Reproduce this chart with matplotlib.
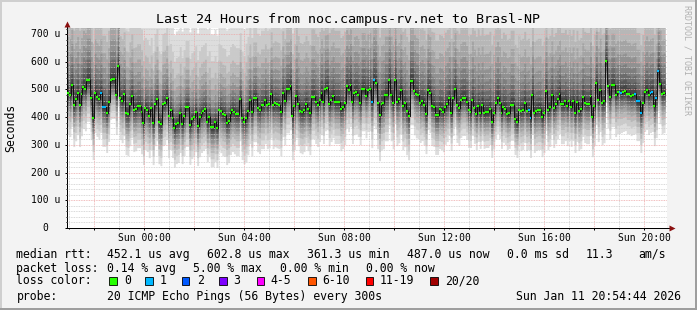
import numpy as np
import matplotlib
matplotlib.use("Agg")
import matplotlib.pyplot as plt
from matplotlib.patches import Rectangle

# ---------------- data ----------------
title = "Last 24 Hours from noc.campus-rv.net to Brasl-NP"

# median RTT in microseconds, in time order (four consecutive stretches)
median_a = [487, 480, 516, 444, 465, 487, 444, 483, 509, 501,
            535, 535, 469, 397, 487, 473, 465, 487, 437, 437,
            415, 455, 535, 538, 538, 480, 585, 469, 458, 483,
            415, 411, 447, 476, 426, 429, 440, 440, 418, 379,
            433, 426, 404, 433, 379, 447, 465, 382, 375, 447,
            451, 469, 404, 426, 397, 362, 375, 379, 415, 375,
            404, 437, 437, 372, 393, 400, 418, 368, 400, 415,
            422, 429, 382, 400, 364, 364, 382, 361, 426]
median_b = [422, 411, 408, 379, 386, 415, 426, 418, 411, 411,
            465, 397, 382, 397, 422, 462, 418, 469, 469, 433,
            426, 444, 444, 462, 444, 447, 483, 444, 451, 447,
            444, 418, 487, 458, 501, 501, 512, 404, 440, 476,
            447, 422, 418, 426, 447, 429, 415, 473, 473, 455,
            444, 462, 487, 455, 501, 505, 447, 462, 476, 455,
            455, 455, 429, 437, 451, 512, 498, 516, 455, 487,
            491, 480, 451, 501, 501, 476, 498]
median_c = [501, 455, 534, 523, 451, 408, 447, 451, 480, 480,
            534, 480, 451, 534, 455, 465, 498, 440, 451, 422,
            404, 530, 530, 494, 483, 480, 451, 458, 444, 411,
            498, 487, 440, 437, 408, 408, 429, 426, 418, 437,
            447, 469, 415, 469, 501, 444, 433, 462, 469, 469,
            455, 426, 418, 462, 433, 411, 440, 415, 444, 415,
            418, 418, 429, 382, 415, 451, 469, 451, 415, 437,
            429, 411, 415, 444, 444, 393, 382, 426]
median_d = [422, 426, 451, 422, 426, 397, 480, 415, 422, 426,
            426, 400, 415, 494, 426, 437, 480, 433, 447, 465,
            483, 447, 447, 458, 440, 458, 437, 458, 415, 455,
            422, 429, 473, 451, 447, 447, 476, 400, 440, 523,
            462, 498, 451, 458, 603, 512, 473, 516, 516, 480,
            491, 491, 487, 491, 494, 483, 483, 476, 480, 483,
            458, 458, 415, 451, 491, 498, 480, 487, 491, 440,
            469, 566, 519, 483, 487]

# positions (in the sequence above) of steps with 1 lost ping of 20
loss_one_steps = [17, 18, 19, 157, 158, 238, 239, 285, 286, 293, 294,
                  295, 296, 301, 302, 304, 305]

# smoke spread per clock hour (20h of the previous day ... 20h)
smoke_hours = [20, 21, 22, 23, 0, 1, 2, 3, 4, 5, 6, 7, 8, 9, 10, 11,
               12, 13, 14, 15, 16, 17, 18, 19, 20]
lower_scale = [1.0, 1.0, 0.95, 1.0, 1.0, 0.95, 0.95, 1.0, 1.05, 1.05,
               1.0, 1.0, 1.0, 1.1, 1.05, 0.95, 0.9, 0.85, 0.85, 0.95,
               0.95, 0.95, 1.0, 0.95, 0.95]
upper_scale = [1.2, 1.2, 1.15, 1.0, 0.85, 0.8, 0.8, 0.8, 0.9, 1.0,
               1.1, 1.15, 1.2, 1.25, 1.2, 1.2, 1.2, 1.25, 1.2, 1.15,
               1.15, 1.15, 1.1, 1.1, 1.15]
# typical offsets of the sorted pings from the median (inner -> outer), us
lower_profile = [-6, -14, -24, -35, -47, -60, -76, -96, -120, -150]
upper_profile = [8, 22, 40, 62, 90, 125, 170, 225, 300, 420]

t_first, t_last = -3.08, 20.84          # hours relative to Sun 00:00
x_min, x_max = -3.08, 20.92
y_max = 722
y_tick_values = [0, 100, 200, 300, 400, 500, 600, 700]
x_label_hours = [0, 4, 8, 12, 16, 20]

loss_labels = ["0", "1", "2", "3", "4-5", "6-10", "11-19", "20/20"]
loss_colors = ["#26ff00", "#00b8ff", "#0059ff", "#7e00ff", "#ff00ff",
               "#ff5500", "#ff0000", "#a10000"]

stats_rtt = ["median rtt:", "452.1 us avg", "602.8 us max", "361.3 us min",
             "487.0 us now", "0.0 ms sd", "11.3", "am/s"]
stats_loss = ["packet loss:", "0.14 % avg", "5.00 % max", "0.00 % min",
              "0.00 % now"]
probe_text = ["probe:", "20 ICMP Echo Pings (56 Bytes) every 300s",
              "Sun Jan 11 20:54:44 2026"]

# ---------------- figure ----------------
W, H = 697, 310
MONO = "DejaVu Sans Mono"
fig = plt.figure(figsize=(W / 100, H / 100), dpi=100)
fig.patch.set_facecolor("#f3f3f3")


def fx(x):
    return x / W


def fy(y):
    return 1 - y / H


def T(x, y, s, **kw):
    kw.setdefault("family", MONO)
    kw.setdefault("fontsize", 8.3)
    kw.setdefault("va", "center")
    fig.text(fx(x), fy(y), s, **kw)


# frame
fig.add_artist(Rectangle((0, fy(2)), 1, 2 / H, transform=fig.transFigure,
                         color="#cfcfcf", lw=0))
fig.add_artist(Rectangle((0, 0), 2 / W, 1, transform=fig.transFigure,
                         color="#cfcfcf", lw=0))
fig.add_artist(Rectangle((0, 0), 1, 2 / H, transform=fig.transFigure,
                         color="#9e9e9e", lw=0))
fig.add_artist(Rectangle((fx(W - 2), 0), 2 / W, 1, transform=fig.transFigure,
                         color="#9e9e9e", lw=0))

ax = fig.add_axes([fx(67), fy(228), 600 / W, 200 / H])
ax.set_facecolor("white")
ax.set_xlim(x_min, x_max)
ax.set_ylim(0, y_max)

median = np.array(median_a + median_b + median_c + median_d, dtype=float)
N = len(median)
dt = (t_last - t_first) / N
t = t_first + dt * np.arange(N)
edges = np.append(t, t[-1] + dt)

# clock hour of each step -> index into smoke_hours (first entry is 20h of day before)
hour_index = np.clip(np.floor(t).astype(int) + 4, 0, len(smoke_hours) - 1)
lo_s = np.array(lower_scale)[hour_index]
up_s = np.array(upper_scale)[hour_index]

half = len(lower_profile)
for k in range(half, 0, -1):          # outermost pair first
    g = int(190 / half * (k - 1)) + 50
    col = "#%02x%02x%02x" % (g, g, g)
    lo = median + lo_s * lower_profile[k - 1]
    hi = median + up_s * upper_profile[k - 1]
    ax.fill_between(edges, np.append(lo, lo[-1]), np.append(hi, hi[-1]),
                    step="post", color=col, lw=0, zorder=1)

# median: dark step line with loss-coloured steps
ax.step(edges, np.append(median, median[-1]), where="post",
        color="#101010", lw=0.7, zorder=3)
loss = np.zeros(N, dtype=int)
loss[loss_one_steps] = 1
cols = [loss_colors[v] for v in loss]
ax.hlines(median, t, t + dt, colors=cols, lw=1.6, zorder=4)

# grid
ax.set_xticks(np.arange(-2, 21, 2))
ax.set_xticks(np.arange(-3, 21, 1), minor=True)
ax.set_yticks(y_tick_values)
ax.set_yticks(np.arange(0, y_max, 20), minor=True)
ax.set_axisbelow(False)
ax.grid(which="minor", color="#cccccc", ls=(0, (1, 1)), lw=0.6, zorder=2.5)
ax.grid(which="major", color="#eda8a8", ls=(0, (1, 1)), lw=0.6, zorder=2.6)

xlabels = []
for h in np.arange(-2, 21, 2):
    xlabels.append("Sun %02d:00" % h if h in x_label_hours else "")
ax.set_xticklabels(xlabels, family=MONO, fontsize=7)
ax.set_yticklabels([])
ax.tick_params(axis="both", which="major", length=1.6, width=0.72,
               direction="out", color="#000000")
ax.tick_params(axis="both", which="minor", length=0.8, width=0.72,
               direction="out", color="#000000")
ax.tick_params(axis="x", pad=2.2)

ytr = ax.get_yaxis_transform()
for v in y_tick_values:
    if v == 0:
        ax.text(-19.2 / 600, v, "0", transform=ytr, ha="right", va="center",
                family=MONO, fontsize=7)
    else:
        ax.text(-7 / 600, v, "%d u" % v, transform=ytr, ha="right",
                va="center", family=MONO, fontsize=7)

for s in ("top", "right"):
    ax.spines[s].set_visible(False)
for s in ("left", "bottom"):
    ax.spines[s].set_linewidth(0.72)
    ax.spines[s].set_color("#000000")
ax.spines["left"].set_bounds(0, y_max * 1.01)
ax.spines["bottom"].set_bounds(x_min, x_max + 0.1)
ax.plot([1 + 5 / 600], [0], marker=">", markersize=4.2, color="#8b1010",
        transform=ax.transAxes, clip_on=False, zorder=6, mec="none")
ax.plot([0], [1 + 4 / 200], marker="^", markersize=4.2, color="#8b1010",
        transform=ax.transAxes, clip_on=False, zorder=6, mec="none")

# texts
T(348.5, 19, title, ha="center", fontsize=9.6)
T(11, 128, "Seconds", ha="center", rotation=90)
T(687, 60, "RRDTOOL / TOBI OETIKER", ha="center", rotation=270,
  fontsize=6, color="#b0b0b0")

rtt_x = [16.4, 107.3, 207.3, 307.3, 407.3, 507.3, 585.8, 638.7]
for x, s in zip(rtt_x, stats_rtt):
    T(x, 254.3, s)
loss_x = [16.4, 107.3, 193.3, 280.0, 366.0]
for x, s in zip(loss_x, stats_loss):
    T(x, 268.6, s)
T(16.4, 281.0, "loss color:")
box_x = [109.3, 145.0, 181.7, 219.0, 256.7, 308.0, 365.7, 430.0]
text_x = [124.0, 160.0, 196.7, 233.3, 270.7, 322.7, 380.0, 445.0]
for bx, tx, lab, c in zip(box_x, text_x, loss_labels, loss_colors):
    fig.add_artist(Rectangle((fx(bx), fy(284.5)), 7.5 / W, 7.5 / H,
                             transform=fig.transFigure, facecolor=c,
                             edgecolor="#000000", lw=0.6))
    T(tx, 281.0, lab)
T(16.4, 296.3, probe_text[0])
T(107.3, 296.3, probe_text[1])
T(681, 296.3, probe_text[2], ha="right")

fig.savefig("out.png", dpi=100, facecolor=fig.get_facecolor())
